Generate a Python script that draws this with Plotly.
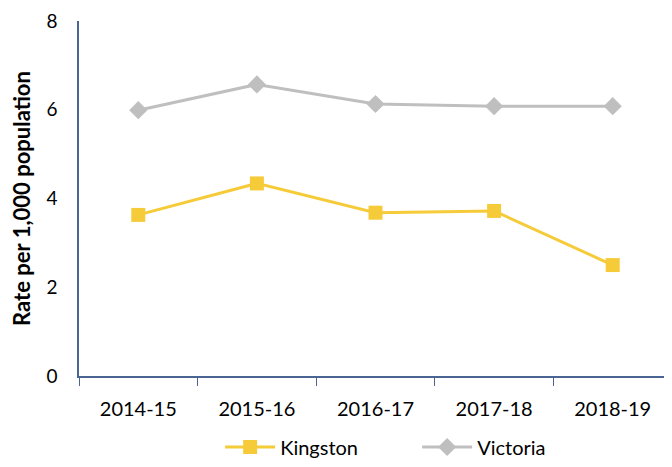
import plotly.graph_objects as go

years = ["2014-15", "2015-16", "2016-17", "2017-18", "2018-19"]
kingston = [3.63, 4.34, 3.68, 3.72, 2.50]
victoria = [5.99, 6.57, 6.13, 6.08, 6.08]
y_ticks = [0, 2, 4, 6, 8]

font_family = "Lato, Open Sans, sans-serif"

fig = go.Figure()
fig.add_trace(go.Scatter(
    x=years, y=kingston, name="Kingston", mode="lines+markers",
    line=dict(color="#F6CB3A", width=3),
    marker=dict(symbol="square", size=14, color="#F6CB3A"),
))
fig.add_trace(go.Scatter(
    x=years, y=victoria, name="Victoria", mode="lines+markers",
    line=dict(color="#BFBFBF", width=3),
    marker=dict(symbol="diamond", size=14, color="#BFBFBF"),
))

fig.update_layout(
    width=664, height=459,
    margin=dict(l=71, r=0, t=13, b=86),
    paper_bgcolor="white", plot_bgcolor="white",
    font=dict(family=font_family, size=20, color="#000000"),
    showlegend=True,
    legend=dict(orientation="h", x=0.238, xanchor="left", y=-0.2, yanchor="middle",
                font=dict(size=20), itemwidth=50, entrywidth=132, tracegroupgap=0),
    xaxis=dict(
        type="category", range=[-0.5, 4.5], automargin=False,
        showline=True, linecolor="#4A6494", linewidth=1.5,
        ticks="outside", tickson="boundaries", ticklen=8, tickcolor="#4A6494",
        showgrid=False, ticklabelstandoff=14,
    ),
    yaxis=dict(
        range=[0, 8], tickvals=y_ticks, automargin=False,
        showline=True, linecolor="#4A6494", linewidth=1.5,
        showgrid=False, zeroline=False, ticks="", ticklabelstandoff=16,
        tickfont=dict(size=19),
        title=dict(text="<b>Rate per 1,000 population</b>", font=dict(size=22), standoff=10),
    ),
)

fig.write_html("out.html")
